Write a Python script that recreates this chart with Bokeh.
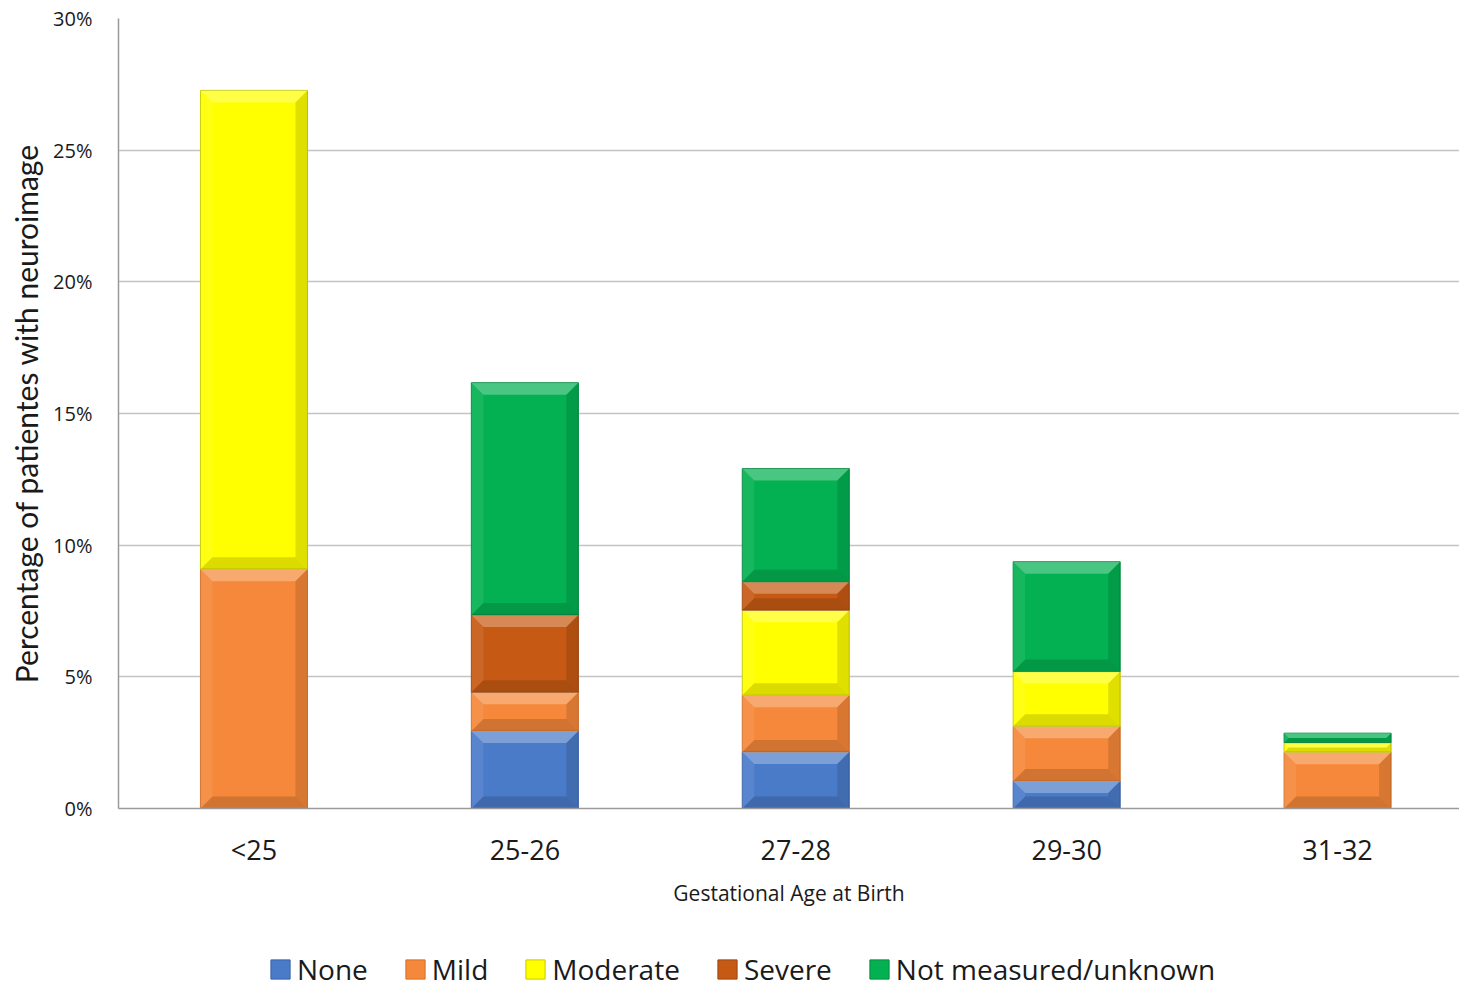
from bokeh.plotting import figure
from bokeh.layouts import column
from bokeh.models import Range1d, FixedTicker, PrintfTickFormatter, Legend, LegendItem
from bokeh.embed import file_html
from bokeh.resources import INLINE

# Share of patients with a neuroimage, by gestational age group (percent)
categories = ["<25", "25-26", "27-28", "29-30", "31-32"]
none = [0.0, 2.94, 2.15, 1.04, 0.0]
mild = [9.09, 1.47, 2.15, 2.08, 2.14]
moderate = [18.18, 0.0, 3.23, 2.08, 0.36]
severe = [0.0, 2.94, 1.08, 0.0, 0.0]
not_measured = [0.0, 8.82, 4.30, 4.17, 0.36]

series_names = ["None", "Mild", "Moderate", "Severe", "Not measured/unknown"]
series_values = [none, mild, moderate, severe, not_measured]
fill_colors = ["#4A7BC9", "#F5883A", "#FFFF00", "#C65A14", "#03B152"]
edge_colors = ["#3A62A8", "#D0702C", "#C9C900", "#9E4610", "#038A40"]
y_ticks = [0, 5, 10, 15, 20, 25, 30]

X_LO, X_HI = -0.5, 4.45
Y_LO, Y_HI = 0, 30
FRAME_W, FRAME_H = 1341, 790
BAR_W = 0.395
BEVEL_PX = 12
PAGE_W = 1459
KEY_H = 79

p = figure(
    frame_width=FRAME_W, frame_height=FRAME_H,
    x_range=Range1d(X_LO, X_HI), y_range=Range1d(Y_LO, Y_HI),
    output_backend="svg", toolbar_location=None,
    min_border_left=118, min_border_right=0, min_border_top=18, min_border_bottom=100,
    background_fill_color="white", border_fill_color="white",
)
p.outline_line_color = None

sx = FRAME_W / (X_HI - X_LO)
sy = FRAME_H / (Y_HI - Y_LO)

xs = list(range(len(categories)))
base = [0.0] * len(categories)
hl_x, hl_y, sh_x, sh_y = [], [], [], []
side_l_x, side_l_y, side_r_x, side_r_y = [], [], [], []
for name, vals, fc, ec in zip(series_names, series_values, fill_colors, edge_colors):
    left, right, bottom, top = [], [], [], []
    for i, v in enumerate(vals):
        if v > 0:
            b, t = base[i], base[i] + v
            x0, x1 = xs[i] - BAR_W / 2, xs[i] + BAR_W / 2
            left.append(x0); right.append(x1); bottom.append(b); top.append(t)
            bev = min(BEVEL_PX, v * sy / 2)
            dx, dy = bev / sx, bev / sy
            hl_x.append([x0, x1, x1 - dx, x0 + dx]); hl_y.append([t, t, t - dy, t - dy])
            sh_x.append([x0, x1, x1 - dx, x0 + dx]); sh_y.append([b, b, b + dy, b + dy])
            side_l_x.append([x0, x0 + dx, x0 + dx, x0]); side_l_y.append([b, b + dy, t - dy, t])
            side_r_x.append([x1, x1 - dx, x1 - dx, x1]); side_r_y.append([b, b + dy, t - dy, t])
        base[i] += v
    p.quad(left=left, right=right, bottom=bottom, top=top,
           fill_color=fc, line_color=ec, line_width=1)

# bevelled edges on each segment
p.patches(hl_x, hl_y, fill_color="white", fill_alpha=0.28, line_color=None)
p.patches(sh_x, sh_y, fill_color="black", fill_alpha=0.14, line_color=None)
p.patches(side_l_x, side_l_y, fill_color="white", fill_alpha=0.08, line_color=None)
p.patches(side_r_x, side_r_y, fill_color="black", fill_alpha=0.12, line_color=None)

# axes
p.xaxis.ticker = FixedTicker(ticks=xs)
p.xaxis.major_label_overrides = {i: c for i, c in enumerate(categories)}
p.xaxis.axis_label = "Gestational Age at Birth"
p.xaxis.axis_label_text_font = "Open Sans"
p.xaxis.axis_label_text_font_size = "21px"
p.xaxis.axis_label_text_font_style = "normal"
p.xaxis.axis_label_text_color = "#1a1a1a"
p.xaxis.axis_label_standoff = 8
p.xaxis.major_label_text_font = "Open Sans"
p.xaxis.major_label_text_font_size = "27px"
p.xaxis.major_label_text_color = "#1a1a1a"
p.xaxis.major_label_standoff = 16
p.xaxis.major_tick_line_color = None
p.xaxis.minor_tick_line_color = None
p.xaxis.axis_line_color = "#9a9a9a"
p.xaxis.axis_line_width = 1.5

p.yaxis.ticker = FixedTicker(ticks=y_ticks)
p.yaxis.formatter = PrintfTickFormatter(format="%d%%")
p.yaxis.axis_label = "Percentage of patientes with neuroimage"
p.yaxis.axis_label_text_font = "Lato"
p.yaxis.axis_label_text_font_size = "30px"
p.yaxis.axis_label_text_font_style = "normal"
p.yaxis.axis_label_text_color = "#1a1a1a"
p.yaxis.axis_label_standoff = 6
p.yaxis.major_label_text_font = "Open Sans"
p.yaxis.major_label_text_font_size = "20px"
p.yaxis.major_label_text_color = "#1a1a1a"
p.yaxis.major_label_standoff = 20
p.yaxis.major_tick_line_color = None
p.yaxis.minor_tick_line_color = None
p.yaxis.axis_line_color = "#9a9a9a"
p.yaxis.axis_line_width = 1.5

p.xgrid.grid_line_color = None
p.ygrid.grid_line_color = "#C4C4C4"
p.ygrid.grid_line_width = 1.5

# key strip underneath the chart; each swatch renderer holds one square
# placed outside the strip's visible range so only the legend shows it
key = figure(
    frame_width=PAGE_W, frame_height=KEY_H,
    x_range=Range1d(0, PAGE_W), y_range=Range1d(0, KEY_H),
    output_backend="svg", toolbar_location=None,
    min_border=0, background_fill_color="white", border_fill_color="white",
)
key.axis.visible = False
key.grid.visible = False
key.outline_line_color = None
key_items = []
for name, fc, ec in zip(series_names, fill_colors, edge_colors):
    r = key.quad(left=[-20], right=[-10], bottom=[-20], top=[-10],
                 fill_color=fc, line_color=ec, line_width=1)
    key_items.append(LegendItem(label=name, renderers=[r]))

legend = Legend(
    items=key_items, orientation="horizontal", location=(268, 0),
    glyph_width=24, glyph_height=24, label_standoff=5, spacing=35,
    padding=0, margin=0, border_line_color=None, background_fill_alpha=0,
    label_text_font="Open Sans", label_text_font_size="28px", label_text_color="#1a1a1a",
)
key.add_layout(legend, "center")

layout = column(p, key, spacing=0)
open("out.html", "w").write(file_html(layout, INLINE))
